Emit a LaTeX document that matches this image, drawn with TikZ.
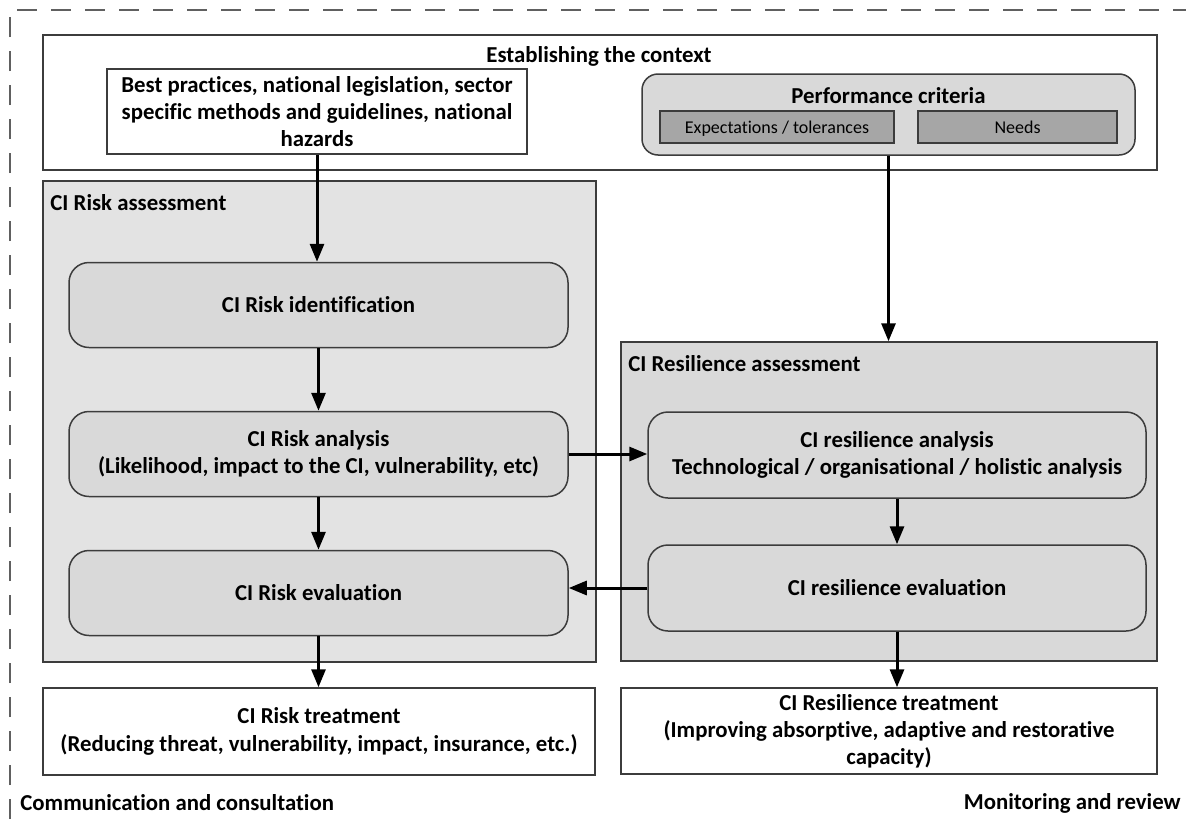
\documentclass[tikz,border=0pt]{standalone}
\usepackage{fontspec}
\setmainfont{Carlito}[Ligatures=NoCommon]
\usetikzlibrary{arrows.meta}
\definecolor{frame}{HTML}{3C3C3C}
\definecolor{dashc}{HTML}{606060}
\definecolor{riskfill}{HTML}{E3E3E3}
\definecolor{resfill}{HTML}{D9D9D9}
\definecolor{rfill}{HTML}{D9D9D9}
\definecolor{subfill}{HTML}{A6A6A6}
\begin{document}
\begin{tikzpicture}[x=0.5pt,y=-0.5pt,
  txt/.style={font=\bfseries\fontsize{11.4}{13.6}\selectfont, align=center, inner sep=0pt},
  box/.style={txt, draw=frame, line width=0.75pt},
  rbox/.style={box, rounded corners=10pt, fill=rfill, minimum width=249.5pt, minimum height=42.5pt},
  subbox/.style={draw=frame, line width=0.6pt, fill=subfill, inner sep=0pt, minimum height=16pt, text height=8pt, text depth=2pt, font=\fontsize{9}{11}\selectfont},
  arr/.style={line width=1.5pt, -{Triangle[length=9pt,width=7pt]}},
  dashframe/.style={draw=dashc, line width=0.75pt, dash pattern=on 10pt off 7pt}
]
\useasboundingbox (0,0) rectangle (1186,819);
\fill[white] (0,0) rectangle (1186,819);

% outer dashed frame (top and left visible)
\coordinate (dbl) at (10,819);
\coordinate (dtl) at (10,10);
\coordinate (dtr) at (1186,10);
\draw[dashframe] (dbl) -- (dtl) -- (dtr);

% establishing the context
\node[box, fill=white, minimum width=557pt, minimum height=67.5pt] (ctx) at (600,102.5) {};
\node[txt] (ctxt) at (599,56) {Establishing the context};
\node[box, fill=white, minimum width=210pt, minimum height=42.5pt] (best) at (317,111.5)
  {Best practices, national legislation, sector\\specific methods and guidelines, national\\hazards};
\node[box, rounded corners=8pt, fill=rfill, minimum width=246.5pt, minimum height=40.5pt] (perf) at (888.5,114.5) {};
\node[txt] (perft) at (888.5,96) {Performance criteria};
\node[subbox, minimum width=117pt] (exp) at (777,127) {Expectations / tolerances};
\node[subbox, minimum width=99.5pt] (needs) at (1017.5,127) {Needs};

% CI risk assessment
\node[box, fill=riskfill, minimum width=276.5pt, minimum height=240.5pt] (riskA) at (319.5,421.5) {};
\node[txt, anchor=west] (riskAt) at (50,203) {CI Risk assessment};
\node[rbox] (rid) at (318.5,305) {CI Risk identification};
\node[rbox] (ran) at (318.5,454) {CI Risk analysis\\(Likelihood, impact to the CI, vulnerability, etc)};
\node[rbox] (rev) at (318.5,593) {CI Risk evaluation};
\node[box, fill=white, minimum width=276pt, minimum height=43.5pt] (rtr) at (319,731.5)
  {CI Risk treatment\\(Reducing threat, vulnerability, impact, insurance, etc.)};

% CI resilience assessment
\node[box, fill=resfill, minimum width=268pt, minimum height=159.5pt] (resA) at (889,501.5) {};
\node[txt, anchor=west] (resAt) at (628,364) {CI Resilience assessment};
\node[rbox, minimum width=249pt, minimum height=43pt] (san) at (897,455)
  {CI resilience analysis\\Technological / organisational / holistic analysis};
\node[rbox, minimum width=249pt, minimum height=43pt] (sev) at (897,588) {CI resilience evaluation};
\node[box, fill=white, minimum width=268pt, minimum height=43pt] (str) at (889,731)
  {CI Resilience treatment\\(Improving absorptive, adaptive and restorative\\capacity)};

% footer labels
\node[txt, anchor=west] (comm) at (20,803) {Communication and consultation};
\node[txt, anchor=east] (mon) at (1181,803) {Monitoring and review};

% connectors
\draw[arr] (best.south) -- (best.south |- rid.north);
\draw[arr] (perf.south) -- (perf.south |- resA.north);
\draw[arr] (rid.south) -- (ran.north);
\draw[arr] (ran.south) -- (rev.north);
\draw[arr] (rev.south) -- (rev.south |- rtr.north);
\draw[arr] (ran.east) -- (ran.east -| san.west);
\draw[arr] (san.south) -- (sev.north);
\draw[arr] (sev.west) -- (sev.west -| rev.east);
\draw[arr] (sev.south) -- (sev.south |- str.north);
\end{tikzpicture}
\end{document}
